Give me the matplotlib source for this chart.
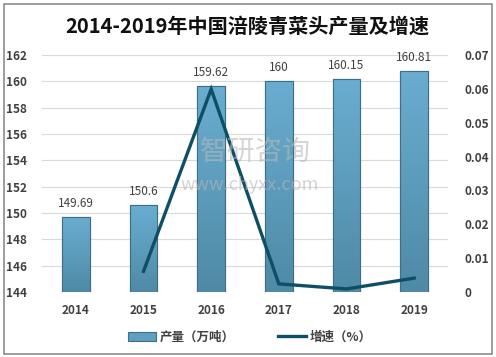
import matplotlib
matplotlib.use("Agg")
import matplotlib.pyplot as plt
import numpy as np
from matplotlib.patches import Rectangle
from matplotlib.colors import LinearSegmentedColormap
from matplotlib.lines import Line2D
from matplotlib.patches import Patch

plt.rcParams['font.family'] = ['Noto Sans CJK SC', 'DejaVu Sans']

years = ['2014', '2015', '2016', '2017', '2018', '2019']
output = [149.69, 150.6, 159.62, 160, 160.15, 160.81]
output_labels = ['149.69', '150.6', '159.62', '160', '160.15', '160.81']
growth_years = ['2015', '2016', '2017', '2018', '2019']
growth = [0.0061, 0.0599, 0.0024, 0.0009, 0.0041]
growth_ticks = ['0', '0.01', '0.02', '0.03', '0.04', '0.05', '0.06', '0.07']

W, H = 496, 357
fig = plt.figure(figsize=(W / 100, H / 100), dpi=100)
fig.patch.set_facecolor('white')

# outer frame
fig.add_artist(Rectangle((4 / W, 3 / H), 488 / W, 350 / H, transform=fig.transFigure,
                         fill=False, edgecolor='#8c8c8c', linewidth=1.2))

ax = fig.add_axes([42 / W, 1 - 292 / H, 406 / W, 237 / H])
x = np.arange(len(years))
bars = ax.bar(x, output, width=0.41, color='#5f9fbf', edgecolor='#3f6f86',
              linewidth=0.8, zorder=2)
ax.set_ylim(144, 162)
ax.set_xlim(-0.5, len(years) - 0.5)
ax.set_yticks(np.arange(144, 163, 2))

cmap = LinearSegmentedColormap.from_list('g', ['#4f8aa6', '#6aadd0'])
grad = np.linspace(0, 1, 256).reshape(-1, 1)
for b in bars:
    bx, bw, top = b.get_x(), b.get_width(), b.get_height()
    im = ax.imshow(grad, extent=[bx, bx + bw, 144, top], origin='lower', cmap=cmap,
                   aspect='auto', zorder=2.5)
    im.set_clip_path(b)
    ax.add_patch(Rectangle((bx, 144), bw, top - 144, fill=False, edgecolor='#3f6f86',
                           linewidth=0.8, zorder=2.6))

for xi, v, lab in zip(x, output, output_labels):
    ax.annotate(lab, (xi, v), xytext=(0, 5), textcoords='offset points',
                ha='center', va='bottom', fontsize=8.5, color='#404040', zorder=5)

ax.set_xticks(x)
ax.set_xticklabels(years, fontsize=8.5, fontweight='bold', color='#404040')
ax.tick_params(axis='both', length=0)
ax.tick_params(axis='x', pad=9)
ax.tick_params(axis='y', pad=11, labelsize=8.5, labelcolor='#404040')
for t in ax.get_yticklabels():
    t.set_fontweight('bold')
ax.yaxis.grid(True, color='#d9d9d9', linewidth=0.8, zorder=0)
ax.set_axisbelow(True)
for s in ax.spines.values():
    s.set_visible(False)
ax.set_facecolor('none')

ax2 = ax.twinx()
gx = [years.index(y) for y in growth_years]
ax2.plot(gx, growth, color='#0e4f66', linewidth=2.4, zorder=6, solid_joinstyle='miter')
ax2.set_ylim(0, 0.07)
ax2.set_yticks(np.arange(0, 0.071, 0.01))
ax2.set_yticklabels(growth_ticks)
ax2.tick_params(axis='y', length=0, pad=12, labelsize=8.5, labelcolor='#404040')
for t in ax2.get_yticklabels():
    t.set_fontweight('bold')
for s in ax2.spines.values():
    s.set_visible(False)

# watermark
fig.text(255 / W, 1 - 152 / H, '智研咨询', fontsize=20, color='#b8b8b8', alpha=0.6,
         ha='center', va='center', zorder=10)
fig.text(250 / W, 1 - 185 / H, 'www.chyxx.com', fontsize=13, color='#b8b8b8', alpha=0.6,
         ha='center', va='center', zorder=10)

fig.text(247 / W, 1 - 26 / H, '2014-2019年中国涪陵青菜头产量及增速', fontsize=14.5,
         fontweight='bold', color='#111111', ha='center', va='center')

handles = [Patch(facecolor='#5f9fbf', edgecolor='#3f6f86', linewidth=0.8),
           Line2D([0], [0], color='#0e4f66', linewidth=2.4)]
fig.legend(handles, ['产量（万吨）', '增速（%）'], loc='center', bbox_to_anchor=(250 / W, 1 - 337 / H),
           ncol=2, frameon=False, prop={'size': 9, 'weight': 'bold'}, columnspacing=3.5,
           handlelength=2.2, handletextpad=0.3, labelcolor='#404040')

fig.savefig('out.png', dpi=100)
